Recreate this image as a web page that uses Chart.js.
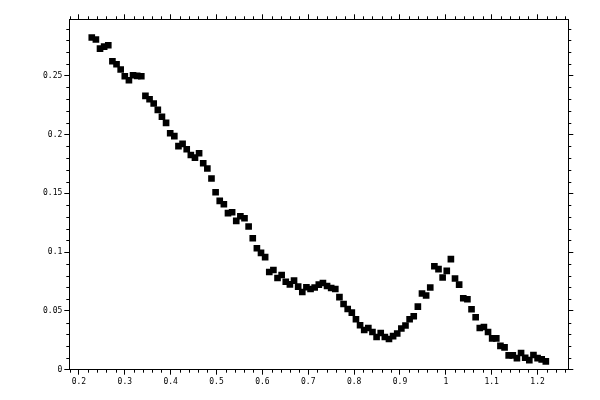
<!DOCTYPE html>
<html lang="en">
<head>
<meta charset="UTF-8">
<title>Scatter</title>
<script src="https://cdn.jsdelivr.net/npm/chart.js"></script>
<style>
  body { margin: 0; background: #fff; }
  #box { width: 600px; height: 400px; }
</style>
</head>
<body>
<div id="box"><canvas id="plot"></canvas></div>
<script>
// values
const xValues = [
  0.228, 0.237, 0.246, 0.255, 0.264, 0.273, 0.282, 0.291, 0.300, 0.309,
  0.318, 0.327, 0.336, 0.345, 0.354, 0.363, 0.372, 0.381, 0.390, 0.399,
  0.408, 0.417, 0.426, 0.435, 0.444, 0.453, 0.462, 0.471, 0.480, 0.489,
  0.498, 0.507, 0.516, 0.525, 0.534, 0.543, 0.552, 0.561, 0.570, 0.579,
  0.588, 0.597, 0.606, 0.615, 0.624, 0.633, 0.642, 0.651, 0.660, 0.669,
  0.678, 0.687, 0.696, 0.705, 0.714, 0.723, 0.732, 0.741, 0.750, 0.759,
  0.768, 0.777, 0.786, 0.795, 0.804, 0.813, 0.822, 0.831, 0.840, 0.849,
  0.858, 0.867, 0.876, 0.885, 0.894, 0.903, 0.912, 0.921, 0.930, 0.939,
  0.948, 0.957, 0.966, 0.975, 0.984, 0.993, 1.002, 1.011, 1.020, 1.029,
  1.038, 1.047, 1.056, 1.065, 1.074, 1.083, 1.092, 1.101, 1.110, 1.119,
  1.128, 1.137, 1.146, 1.155, 1.164, 1.173, 1.182, 1.191, 1.200, 1.209,
  1.218
];
const yValues = [
  0.2825, 0.2808, 0.2731, 0.2748, 0.2759, 0.2623, 0.2598, 0.2553, 0.2496, 0.2462,
  0.2504, 0.2499, 0.2496, 0.2329, 0.2300, 0.2264, 0.2210, 0.2151, 0.2099, 0.2011,
  0.1986, 0.1901, 0.1921, 0.1875, 0.1826, 0.1804, 0.1841, 0.1756, 0.1711, 0.1626,
  0.1509, 0.1436, 0.1407, 0.1331, 0.1339, 0.1266, 0.1305, 0.1288, 0.1218, 0.1118,
  0.1033, 0.0994, 0.0957, 0.0831, 0.0848, 0.0780, 0.0805, 0.0748, 0.0726, 0.0757,
  0.0706, 0.0661, 0.0701, 0.0686, 0.0699, 0.0723, 0.0737, 0.0712, 0.0695, 0.0686,
  0.0617, 0.0559, 0.0516, 0.0486, 0.0429, 0.0378, 0.0338, 0.0355, 0.0321, 0.0278,
  0.0312, 0.0278, 0.0261, 0.0285, 0.0308, 0.0350, 0.0376, 0.0429, 0.0455, 0.0537,
  0.0648, 0.0631, 0.0699, 0.0880, 0.0855, 0.0784, 0.0841, 0.0940, 0.0776, 0.0724,
  0.0608, 0.0599, 0.0514, 0.0446, 0.0355, 0.0363, 0.0321, 0.0267, 0.0267, 0.0202,
  0.0190, 0.0122, 0.0122, 0.0099, 0.0142, 0.0102, 0.0082, 0.0125, 0.0099, 0.0088,
  0.0071
];
const xTicks = [0.2, 0.3, 0.4, 0.5, 0.6, 0.7, 0.8, 0.9, 1, 1.1, 1.2];
const yTicks = [0, 0.05, 0.1, 0.15, 0.2, 0.25];

const font = { family: 'DejaVu Sans Mono', size: 8 };
const fmt = v => String(Number(v.toFixed(2)));

function axis(position, tickList, size, showLabels) {
  const horiz = position === 'bottom' || position === 'top';
  return {
    type: 'linear',
    position: position,
    min: horiz ? 0.179 : 0,
    max: horiz ? 1.267 : 0.298,
    afterBuildTicks: s => { s.ticks = tickList.map(v => ({ value: v })); },
    afterFit: s => { if (horiz) s.height = size; else s.width = size; },
    grid: { drawOnChartArea: false, tickLength: 5, color: '#000', tickColor: '#000' },
    border: { display: true, color: '#000', width: 1 },
    ticks: {
      display: showLabels, font: font, color: '#000', padding: 2,
      maxRotation: 0, autoSkip: false, callback: v => fmt(v)
    }
  };
}

// small ticks between the labelled ones, on all four sides
const minorTicks = {
  id: 'minorTicks',
  afterDraw(chart) {
    const { ctx, chartArea: a, scales } = chart;
    ctx.save();
    ctx.strokeStyle = '#000';
    ctx.lineWidth = 1;
    ctx.beginPath();
    for (let i = 9; i <= 63; i++) {
      if (i % 5 === 0) continue;
      const px = Math.round(scales.x.getPixelForValue(i * 0.02)) + 0.5;
      ctx.moveTo(px, a.bottom); ctx.lineTo(px, a.bottom + 3);
      ctx.moveTo(px, a.top); ctx.lineTo(px, a.top - 3);
    }
    for (let i = 1; i <= 29; i++) {
      if (i % 5 === 0) continue;
      const py = Math.round(scales.y.getPixelForValue(i * 0.01)) + 0.5;
      ctx.moveTo(a.left, py); ctx.lineTo(a.left - 3, py);
      ctx.moveTo(a.right, py); ctx.lineTo(a.right + 3, py);
    }
    ctx.stroke();
    ctx.restore();
  }
};

new Chart(document.getElementById('plot'), {
  type: 'scatter',
  data: {
    datasets: [{
      data: xValues.map((x, i) => ({ x: x, y: yValues[i] })),
      pointStyle: 'rect',
      pointRadius: 4.7,
      backgroundColor: '#000',
      borderWidth: 0
    }]
  },
  options: {
    responsive: true,
    maintainAspectRatio: false,
    animation: false,
    events: [],
    layout: { padding: 0 },
    plugins: { legend: { display: false }, tooltip: { enabled: false } },
    scales: {
      x: axis('bottom', xTicks, 30.3, true),
      x2: axis('top', xTicks, 19.3, false),
      y: axis('left', yTicks, 69.3, true),
      y2: axis('right', yTicks, 31.7, false)
    }
  },
  plugins: [minorTicks]
});
</script>
</body>
</html>
